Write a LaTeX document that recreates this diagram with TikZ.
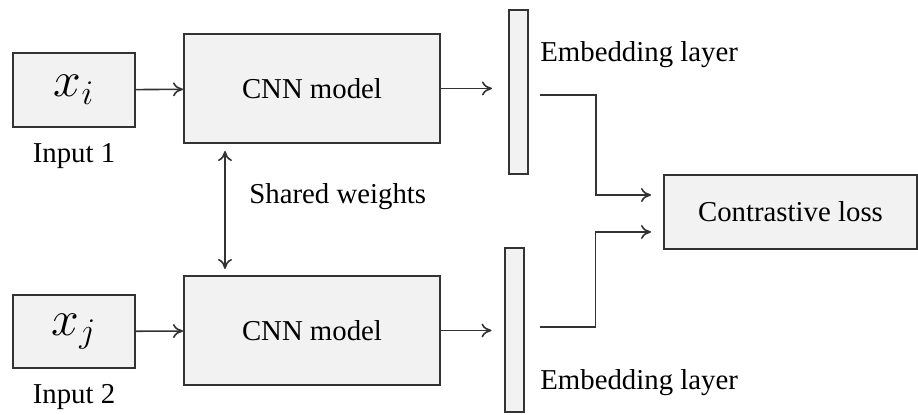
\documentclass[tikz,border=0pt]{standalone}
\usepackage{fontspec}
\setmainfont{Liberation Serif}
\usetikzlibrary{arrows.meta}
\usetikzlibrary{calc}
\usetikzlibrary{positioning}

\begin{document}
\begin{tikzpicture}[%
  x=0.5pt,y=-0.5pt,%
  boxStyle/.style={draw=black!80,line width=1pt,fill=black!5,inner sep=0pt},%
  barStyle/.style={boxStyle,minimum width=9.5pt,minimum height=82pt},%
  textStyle/.style={inner sep=0pt,font=\fontsize{14.4}{17}\selectfont},%
  arrowStyle/.style={draw=black!80,line width=0.8pt,-{To[length=5pt,width=7pt]}}%
]
%
%
\pgfmathsetmacro{\gapIn}{7}   % Free space in front of a bar.
\pgfmathsetmacro{\gapOut}{11} % Free space behind a bar.
\pgfmathsetmacro{\elbow}{56}  % Where the lines to the loss turn.
\useasboundingbox (0,0) rectangle (918,415);
%
%
% Inputs.
\node[boxStyle,minimum width=61pt,minimum height=37pt] (xi) at (74,90)
  {\fontsize{24}{28}\selectfont$x_i$};
\node[boxStyle,minimum width=61pt,minimum height=36.5pt] (xj) at (74,331.5)
  {\fontsize{24}{28}\selectfont$x_j$};
\node[textStyle,below=7.5pt of xi] (input1) {Input 1};
\node[textStyle,below=7.5pt of xj] (input2) {Input 2};
%
% The two CNN models.
\node[boxStyle,textStyle,minimum width=128pt,minimum height=54.5pt] (cnn1) at (312,88.5) {CNN model};
\node[boxStyle,textStyle,minimum width=128pt,minimum height=54.5pt] (cnn2) at (312,330.5) {CNN model};
%
% Embedding layers.
\node[barStyle] (emb1) at (518.5,92.5) {};
\node[barStyle] (emb2) at (514,330.5) {};
\node[textStyle,anchor=west] (embtxt1) at (540,55) {Embedding layer};
\node[textStyle,anchor=west] (embtxt2) at (540,383) {Embedding layer};
%
% Loss.
\node[boxStyle,textStyle,minimum width=126.5pt,minimum height=37pt] (loss) at (790.5,212) {Contrastive loss};
%
%
\draw[arrowStyle] (xi) -- (cnn1);
\draw[arrowStyle] (xj) -- (cnn2);
\draw[arrowStyle,shorten >=16*0.5pt] (cnn1.east) -- (cnn1.east -| emb1.west);
\draw[arrowStyle,shorten >=12*0.5pt] (cnn2.east) -- (cnn2.east -| emb2.west);
\draw[arrowStyle,shorten <=\gapOut*0.5pt,shorten >=12*0.5pt]
  ($(emb1.east)+(0,2.5)$) -- ++(\elbow+\gapOut,0) |- ($(loss.west)+(0,-17)$);
\draw[arrowStyle,shorten <=15*0.5pt,shorten >=12*0.5pt]
  ($(emb2.east)+(0,-3.5)$) -- ++(\elbow+15,0) |- ($(loss.west)+(0,20)$);
%
% Shared weights between the models.
\draw[arrowStyle,{To[length=5pt,width=7pt]}-{To[length=5pt,width=7pt]}]
  ($(cnn1.south west)+(42,\gapIn)$) -- ($(cnn2.north west)+(42,-6)$);
\node[textStyle,anchor=west] (shared) at (249,197) {Shared weights};
\end{tikzpicture}
\end{document}
